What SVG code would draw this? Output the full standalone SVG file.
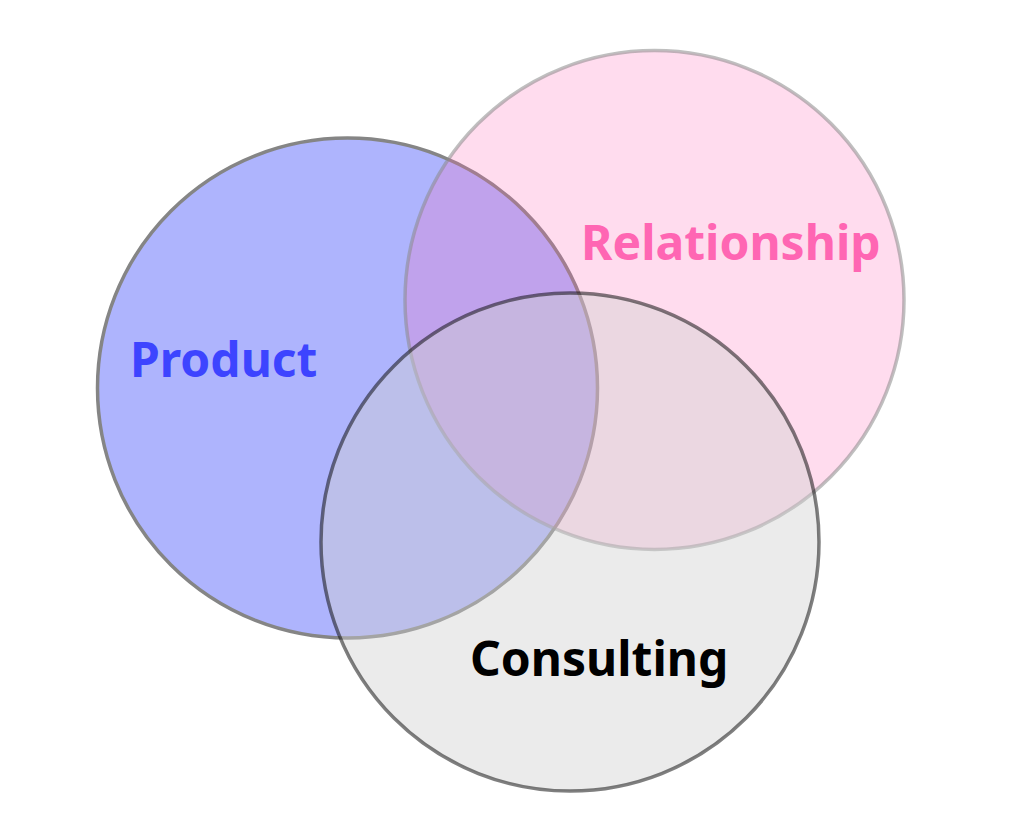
<svg xmlns="http://www.w3.org/2000/svg" width="1024" height="829" viewBox="0 0 1024 829">
<style>
.c{stroke-width:3.5}
.t{font-family:"Noto Sans","Open Sans","Liberation Sans",sans-serif;font-weight:700;font-size:48px}
</style>
<rect width="1024" height="829" fill="#ffffff"/>
<g id="product">
<circle class="c" cx="347.5" cy="388" r="250" fill="#aeb4fd" stroke="#858585"/>
</g>
<g id="relationship">
<circle class="c" cx="654.5" cy="300" r="249.5" fill="#ff69b4" fill-opacity="0.23" stroke="#8a8a8a" stroke-opacity="0.55"/>
</g>
<g id="consulting">
<circle class="c" cx="570" cy="542" r="249" fill="#cfcfcf" fill-opacity="0.42" stroke="#000" stroke-opacity="0.5"/>
</g>
<g id="labels">
<text class="t" x="130" y="377" fill="#3d44ff">Product</text>
<text class="t" x="581" y="260" fill="#ff66b3">Relationship</text>
<text class="t" x="470" y="676" fill="#000000">Consulting</text>
</g>
</svg>
